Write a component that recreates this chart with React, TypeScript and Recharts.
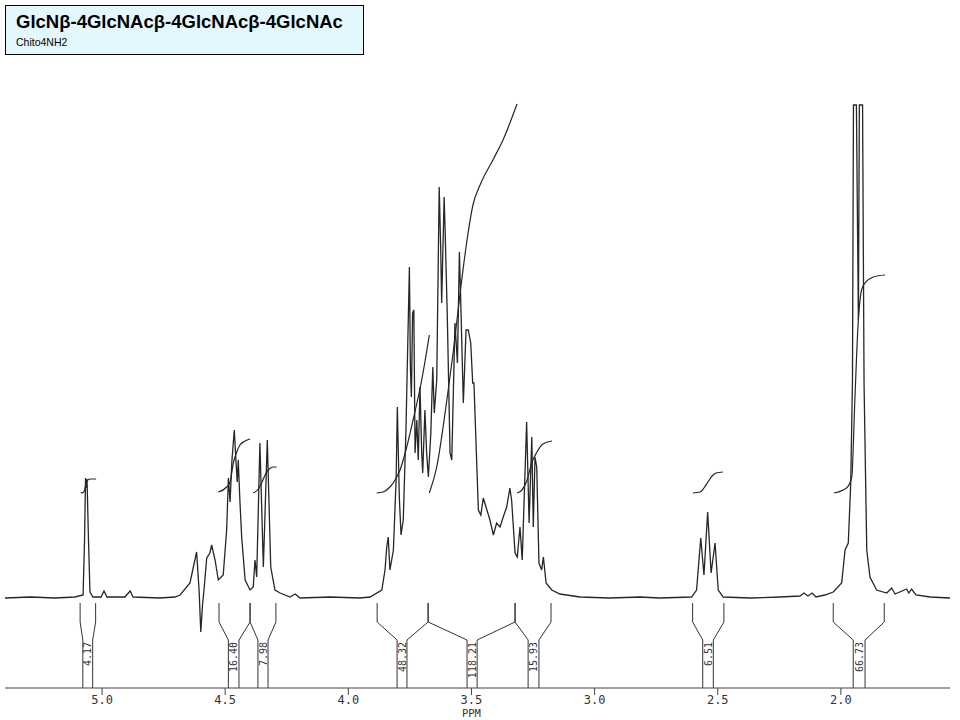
import React from "react";
import { ComposedChart, Line, XAxis, YAxis, ReferenceLine, Scatter } from "recharts";

// ---- data (chemical shift in ppm, intensity in plot units above baseline) ----
const TITLE = "GlcNβ-4GlcNAcβ-4GlcNAcβ-4GlcNAc";
const SUBTITLE = "Chito4NH2";
const PPM_TICKS = [5.0, 4.5, 4.0, 3.5, 3.0, 2.5, 2.0];
const PPM_DOMAIN: [number, number] = [1.557, 5.394];

const SPECTRUM: [number, number][] = [
  [5.394, 0], [5.292, 1], [5.191, 0], [5.11, 1], [5.077, 3], [5.071, 58], [5.067, 120], [5.064, 110], [5.061, 119],
  [5.055, 58], [5.049, 6], [5.037, 1], [5.004, 1], [4.992, 7], [4.98, 1], [4.907, 1], [4.886, 7], [4.874, 1],
  [4.765, 0], [4.704, 1], [4.683, 3], [4.643, 15], [4.616, 46], [4.606, 8], [4.599, -34], [4.592, -7], [4.586, 8],
  [4.575, 40], [4.562, 45], [4.555, 53], [4.541, 38], [4.528, 18], [4.508, 23], [4.494, 68], [4.487, 120],
  [4.48, 96], [4.473, 136], [4.463, 168], [4.456, 136], [4.451, 116], [4.447, 138], [4.44, 96], [4.433, 61],
  [4.419, 18], [4.399, 8], [4.386, 11], [4.379, 38], [4.372, 21], [4.359, 155], [4.345, 31], [4.329, 158],
  [4.315, 31], [4.298, 8], [4.277, 5], [4.237, 1], [4.216, 4], [4.196, 0], [4.074, 1], [3.953, 0], [3.912, 1],
  [3.864, 8], [3.851, 28], [3.844, 51], [3.838, 61], [3.831, 28], [3.817, 48], [3.806, 118], [3.801, 191],
  [3.793, 101], [3.786, 63], [3.777, 78], [3.766, 168], [3.756, 285], [3.752, 331], [3.748, 231], [3.744, 201],
  [3.739, 285], [3.734, 288], [3.729, 145], [3.722, 178], [3.716, 138], [3.709, 211], [3.702, 145], [3.698, 125],
  [3.689, 188], [3.682, 145], [3.675, 121], [3.665, 165], [3.657, 231], [3.651, 185], [3.641, 218], [3.631, 411],
  [3.625, 351], [3.621, 295], [3.611, 401], [3.607, 368], [3.598, 281], [3.594, 231], [3.587, 145], [3.58, 138],
  [3.574, 201], [3.567, 275], [3.557, 235], [3.549, 346], [3.544, 301], [3.533, 195], [3.522, 268], [3.513, 268],
  [3.503, 255], [3.495, 215], [3.49, 215], [3.472, 88], [3.462, 83], [3.452, 100], [3.441, 91], [3.425, 78],
  [3.411, 63], [3.398, 75], [3.384, 71], [3.371, 81], [3.357, 91], [3.344, 110], [3.337, 98], [3.323, 45],
  [3.314, 41], [3.303, 71], [3.294, 38], [3.276, 176], [3.266, 75], [3.255, 161], [3.249, 71], [3.242, 141],
  [3.235, 131], [3.226, 35], [3.215, 28], [3.208, 41], [3.197, 15], [3.174, 8], [3.141, 4], [3.059, 1], [2.938, 0],
  [2.816, 1], [2.735, 0], [2.606, 1], [2.586, 8], [2.569, 60], [2.556, 23], [2.541, 86], [2.527, 25], [2.511, 55],
  [2.498, 8], [2.478, 1], [2.369, 0], [2.247, 1], [2.166, 2], [2.15, 5], [2.134, 2], [2.117, 5], [2.101, 1],
  [2.065, 3], [2.031, 6], [1.997, 15], [1.983, 48], [1.97, 55], [1.96, 115], [1.953, 218], [1.949, 493],
  [1.937, 493], [1.929, 278], [1.925, 493], [1.912, 493], [1.906, 215], [1.895, 48], [1.882, 21], [1.855, 8],
  [1.814, 5], [1.794, 10], [1.78, 4], [1.733, 9], [1.724, 5], [1.713, 9], [1.695, 3], [1.638, 1], [1.557, 0],
];

// integral traces
const INTEGRAL_1: [number, number][] = [[5.087, 105], [5.074, 106], [5.067, 112], [5.061, 117], [5.049, 119], [5.024, 119]];
const INTEGRAL_2: [number, number][] = [[4.528, 106], [4.494, 111], [4.48, 116], [4.467, 135], [4.453, 146], [4.44, 153], [4.419, 157], [4.399, 159]];
const INTEGRAL_3: [number, number][] = [[4.386, 105], [4.365, 109], [4.352, 115], [4.338, 123], [4.325, 128], [4.305, 131], [4.291, 131]];
const INTEGRAL_4: [number, number][] = [[3.885, 105], [3.859, 106], [3.831, 111], [3.81, 118], [3.79, 128], [3.766, 148], [3.737, 178], [3.702, 218], [3.671, 263]];
const INTEGRAL_5: [number, number][] = [[3.671, 105], [3.641, 131], [3.601, 196], [3.574, 246], [3.547, 303], [3.518, 358], [3.494, 393], [3.465, 413], [3.413, 438], [3.372, 458], [3.315, 494]];
const INTEGRAL_6: [number, number][] = [[3.315, 105], [3.295, 108], [3.274, 118], [3.254, 136], [3.234, 146], [3.21, 154], [3.173, 157]];
const INTEGRAL_7: [number, number][] = [[2.601, 105], [2.572, 106], [2.556, 110], [2.54, 116], [2.523, 122], [2.507, 125], [2.479, 126]];
const INTEGRAL_8: [number, number][] = [[2.028, 105], [1.977, 110], [1.956, 121], [1.943, 200], [1.931, 270], [1.916, 308], [1.902, 315], [1.868, 321], [1.821, 323]];
const INTEGRALS = [INTEGRAL_1, INTEGRAL_2, INTEGRAL_3, INTEGRAL_4, INTEGRAL_5, INTEGRAL_6, INTEGRAL_7, INTEGRAL_8];

// integration regions and printed values
const INTEGRAL_LABELS = ["4.17", "16.40", "7.98", "48.32", "118.21", "15.93", "6.51", "66.73"];
const REGION_LEFT = [5.089, 4.525, 4.399, 3.883, 3.676, 3.323, 2.602, 2.031];
const REGION_RIGHT = [5.026, 4.399, 4.294, 3.676, 3.323, 3.177, 2.475, 1.824];
const COLUMN_LEFT = [5.078, 4.487, 4.367, 3.802, 3.518, 3.27, 2.561, 1.95];
const COLUMN_RIGHT = [5.038, 4.444, 4.326, 3.762, 3.477, 3.226, 2.518, 1.902];

// ---- layout constants (plot units: 0 = axis line) ----
const BASE = 90; // spectrum baseline height above the axis
const BR_TOP = 85;
const BR_KNEE = 66;
const BR_COL = 48;
const LABEL_Y = 46;

const INK = "#262626";
const MONO = "'DejaVu Sans Mono', 'Liberation Mono', monospace";

const spectrumData = SPECTRUM.map(([ppm, h]) => ({ ppm, v: h + BASE }));
const integralData = INTEGRALS.map((arr) => arr.map(([ppm, h]) => ({ ppm, v: h + BASE })));
const labelData = INTEGRAL_LABELS.map((label, i) => ({
  ppm: (COLUMN_LEFT[i] + COLUMN_RIGHT[i]) / 2,
  v: LABEL_Y,
  label,
}));

type Seg = [{ x: number; y: number }, { x: number; y: number }];
const bracketSegments: Seg[] = [];
INTEGRAL_LABELS.forEach((_, i) => {
  const sides: [number, number][] = [
    [REGION_LEFT[i], COLUMN_LEFT[i]],
    [REGION_RIGHT[i], COLUMN_RIGHT[i]],
  ];
  sides.forEach(([b, c]) => {
    bracketSegments.push([{ x: b, y: BR_TOP }, { x: b, y: BR_KNEE }]);
    bracketSegments.push([{ x: b, y: BR_KNEE }, { x: c, y: BR_COL }]);
    bracketSegments.push([{ x: c, y: BR_COL }, { x: c, y: 0 }]);
  });
});

const AxisTick = (props: any) => {
  const { x, y, payload } = props;
  const val = Number(payload.value);
  return (
    <g>
      <text x={x} y={y + 7} textAnchor="middle" fontFamily={MONO} fontSize={12} fill="#333">
        {val.toFixed(1)}
      </text>
      {Math.abs(val - 3.5) < 1e-6 && (
        <text x={x} y={y + 19.5} textAnchor="middle" fontFamily={MONO} fontSize={10.5} fill="#333">
          PPM
        </text>
      )}
    </g>
  );
};

const LabelShape = (props: any) => {
  const { cx, cy, payload } = props;
  if (cx == null || cy == null) return null;
  return (
    <text
      x={cx}
      y={cy}
      dy="0.36em"
      textAnchor="end"
      transform={`rotate(-90 ${cx} ${cy})`}
      fontFamily={MONO}
      fontSize={10}
      fill="#333"
    >
      {payload.label}
    </text>
  );
};

export default function App() {
  return (
    <div style={{ position: "absolute", left: 0, top: 0, width: 960, height: 720, background: "#fff" }}>
      <ComposedChart width={960} height={720} margin={{ top: 100, right: 10, bottom: 2, left: 5 }}>
        <XAxis
          dataKey="ppm"
          type="number"
          domain={PPM_DOMAIN}
          reversed
          allowDataOverflow
          ticks={PPM_TICKS}
          tick={<AxisTick />}
          tickSize={7}
          height={30}
          axisLine={{ stroke: "#444", strokeWidth: 1 }}
          tickLine={{ stroke: "#444", strokeWidth: 1 }}
        />
        <YAxis hide type="number" domain={[0, 588]} allowDataOverflow />
        {bracketSegments.map((seg, i) => (
          <ReferenceLine key={"b" + i} segment={seg} stroke="#333" strokeWidth={1} ifOverflow="visible" />
        ))}
        {integralData.map((d, i) => (
          <Line
            key={"i" + i}
            data={d}
            dataKey="v"
            type="monotone"
            dot={false}
            activeDot={false}
            stroke={INK}
            strokeWidth={1.2}
            isAnimationActive={false}
          />
        ))}
        <Line
          data={spectrumData}
          dataKey="v"
          type="linear"
          dot={false}
          activeDot={false}
          stroke={INK}
          strokeWidth={1.3}
          isAnimationActive={false}
        />
        <Scatter data={labelData} dataKey="v" shape={<LabelShape />} isAnimationActive={false} />
      </ComposedChart>
      <div
        style={{
          position: "absolute",
          left: 5,
          top: 5,
          width: 359,
          height: 50,
          border: "1px solid #000",
          background: "#e3f8fc",
          fontFamily: "'Liberation Sans', Arial, sans-serif",
          boxSizing: "border-box",
        }}
      >
        <div style={{ position: "absolute", left: 10, top: 5, fontSize: 18.5, fontWeight: "bold", color: "#000", whiteSpace: "nowrap", letterSpacing: 0 }}>
          {TITLE}
        </div>
        <div style={{ position: "absolute", left: 10, top: 30, fontSize: 10.5, color: "#000", whiteSpace: "nowrap" }}>
          {SUBTITLE}
        </div>
      </div>
    </div>
  );
}
